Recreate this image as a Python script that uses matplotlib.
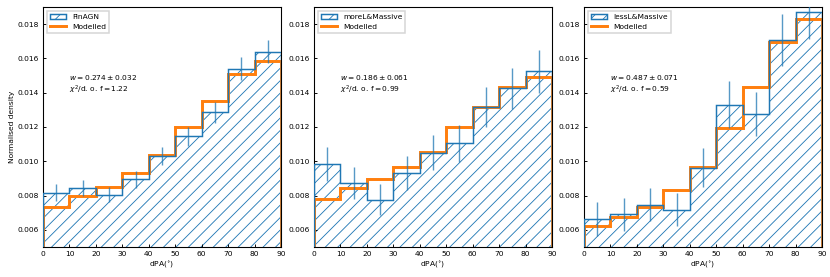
import numpy as np
import matplotlib
matplotlib.use('Agg')
import matplotlib.pyplot as plt
from matplotlib.patches import Patch
from matplotlib.lines import Line2D

# bin edges of dPA (deg)
edges = np.arange(0, 100, 10)
centers = edges[:-1] + 5

names = ['FinAGN', 'moreL&Massive', 'lessL&Massive']

obs_fin = [0.00817, 0.00843, 0.00806, 0.00895, 0.01030, 0.01145, 0.01285, 0.01541, 0.01639]
err_fin = [0.00049, 0.00047, 0.00046, 0.00050, 0.00052, 0.00055, 0.00062, 0.00067, 0.00066]
mod_fin = [0.00736, 0.00800, 0.00850, 0.00932, 0.01035, 0.01198, 0.01353, 0.01511, 0.01587]

obs_more = [0.00986, 0.00872, 0.00777, 0.00932, 0.01049, 0.01105, 0.01319, 0.01425, 0.01526]
err_more = [0.00100, 0.00094, 0.00090, 0.00097, 0.00102, 0.00107, 0.00117, 0.00122, 0.00125]
mod_more = [0.00778, 0.00846, 0.00894, 0.00968, 0.01057, 0.01198, 0.01315, 0.01435, 0.01489]

obs_less = [0.00664, 0.00690, 0.00747, 0.00718, 0.00963, 0.01330, 0.01276, 0.01708, 0.01872]
err_less = [0.00099, 0.00094, 0.00097, 0.00097, 0.00113, 0.00136, 0.00131, 0.00150, 0.00158]
mod_less = [0.00621, 0.00673, 0.00732, 0.00831, 0.00964, 0.01196, 0.01433, 0.01694, 0.01830]

w_vals = ['0.274', '0.186', '0.487']
w_errs = ['0.032', '0.061', '0.071']
chi2 = ['1.22', '0.99', '0.59']

obs = [obs_fin, obs_more, obs_less]
errs = [err_fin, err_more, err_less]
mods = [mod_fin, mod_more, mod_less]

plt.rcParams['font.size'] = 4.8
plt.rcParams['hatch.linewidth'] = 0.55
plt.rcParams['hatch.color'] = 'tab:blue'
plt.rcParams['axes.linewidth'] = 0.7

fig = plt.figure(figsize=(830 / 112, 277 / 112), dpi=112)
lefts = [43, 314, 584]
for i in range(3):
    ax = fig.add_axes([lefts[i] / 830, 30 / 277, 238 / 830, 240 / 277])
    # hatched fill under the observed histogram
    ax.bar(centers, obs[i], width=10, fill=False, hatch='///', lw=0,
           edgecolor='tab:blue', zorder=1)
    ax.stairs(mods[i], edges, baseline=0, color='tab:orange', lw=1.9, zorder=2)
    ax.stairs(obs[i], edges, baseline=0, color='tab:blue', lw=0.95, zorder=3)
    ax.errorbar(centers, obs[i], yerr=errs[i], fmt='none', ecolor='tab:blue',
                alpha=0.75, lw=0.9, zorder=4)
    ax.set_xlim(0, 90)
    ax.set_ylim(0.005, 0.019)
    ax.set_xticks(np.arange(0, 100, 10))
    ax.set_yticks([0.006, 0.008, 0.010, 0.012, 0.014, 0.016, 0.018])
    ax.tick_params(direction='in', length=2.2, width=0.6, pad=2.5)
    ax.set_xlabel(r'dPA($^{\circ}$)', labelpad=1.5)
    if i == 0:
        ax.set_ylabel('Normalised density', labelpad=2)
    ax.text(10, 0.0145, r'$w = %s \pm %s$' % (w_vals[i], w_errs[i]) + '\n'
            + r'$\chi^2$/d. o. f$ = %s$' % chi2[i], va='center', ha='left')
    handles = [Patch(fill=False, hatch='///', edgecolor='tab:blue', lw=0.95),
               Line2D([], [], color='tab:orange', lw=1.9)]
    ax.legend(handles, [names[i], 'Modelled'], loc='upper left', handlelength=2.2,
              borderaxespad=0.5, fancybox=False, framealpha=0.8)

fig.savefig('out.png', dpi=112)
